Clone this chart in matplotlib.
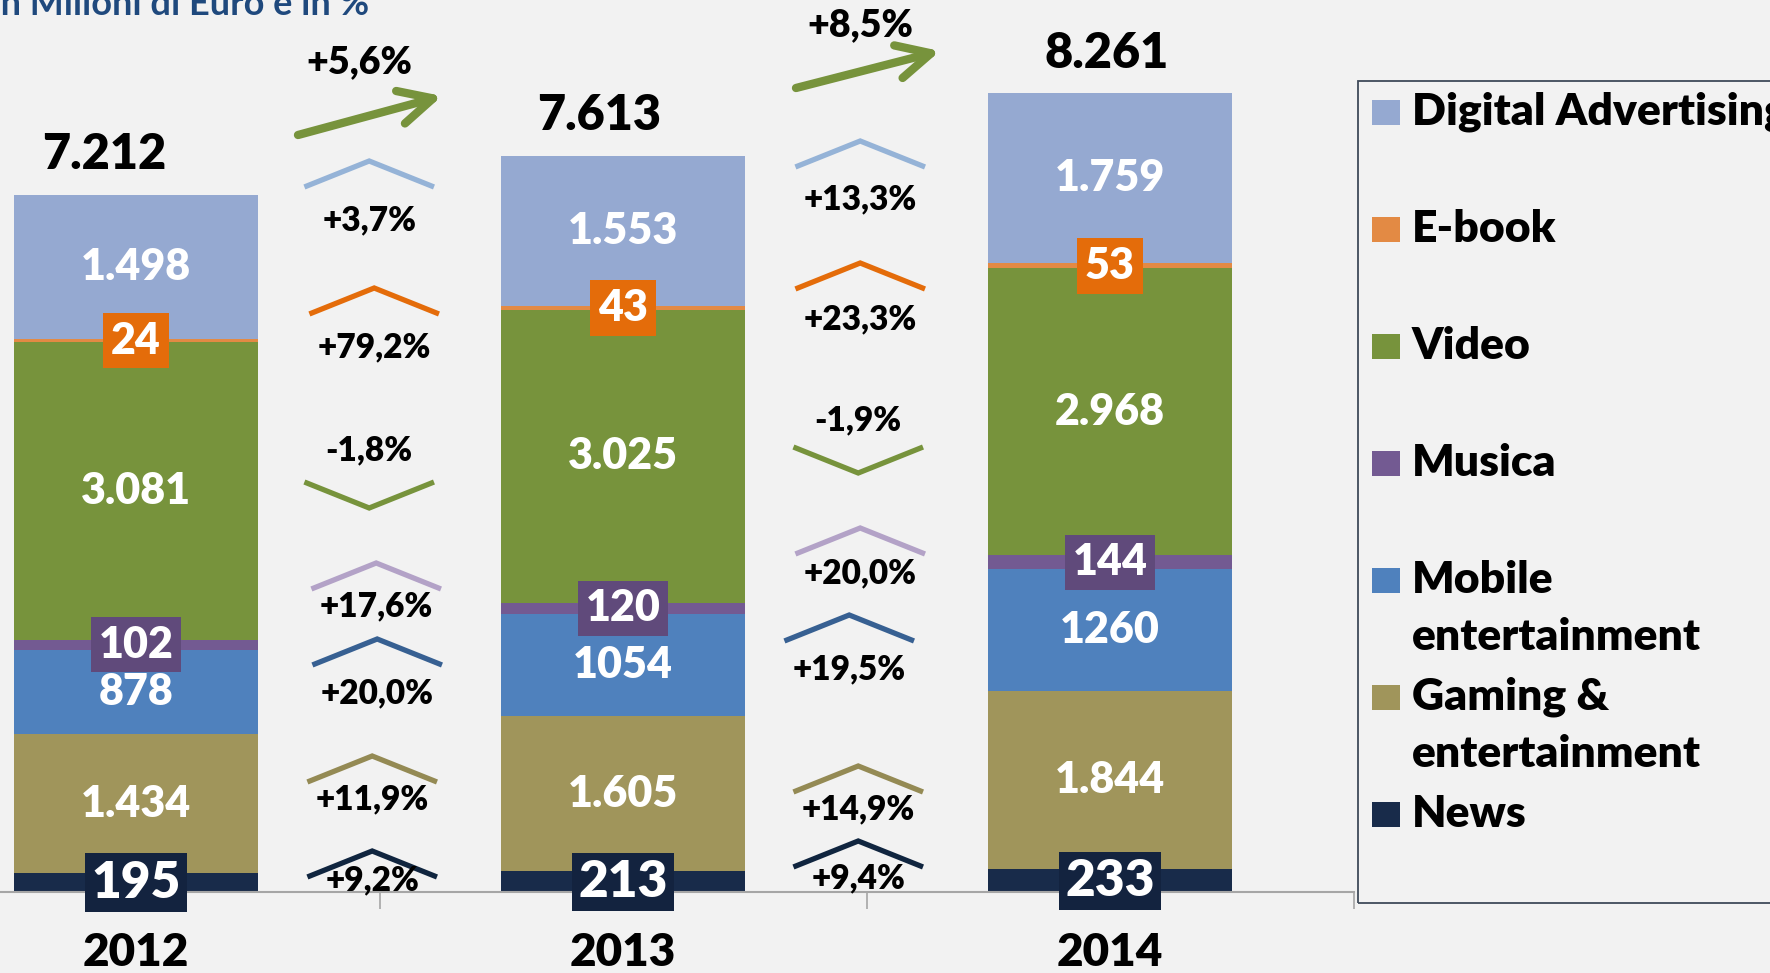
import matplotlib
matplotlib.use("Agg")
import matplotlib.pyplot as plt
from matplotlib.patches import Rectangle
from matplotlib.transforms import blended_transform_factory

# ===============================
# DATA (Milioni di Euro)
# ===============================
YEARS = ["2012", "2013", "2014"]

# stacked bottom -> top
SERIES = ["News", "Gaming &\nentertainment", "Mobile\nentertainment",
          "Musica", "Video", "E-book", "Digital Advertising"]
news = [195, 213, 233]
gaming = [1434, 1605, 1844]
mobile = [878, 1054, 1260]
musica = [102, 120, 144]
video = [3081, 3025, 2968]
ebook = [24, 43, 53]
digital = [1498, 1553, 1759]
VALUES = [news, gaming, mobile, musica, video, ebook, digital]

# ===============================
# STYLE / LAYOUT
# ===============================
BG = "#F2F2F2"
COLORS = ["#182B4A", "#A0955B", "#4F81BD", "#735A92", "#77933C", "#E38A44", "#95A9D1"]
CHEV_COLORS = ["#10253F", "#948A54", "#376092", "#B3A2C7", "#77933C", "#E46C0A", "#95B3D7"]
BOX_COLORS = {"News": "#13233F", "Musica": "#604A7B", "E-book": "#E46C0A"}
NO_SEP = {"Mobile\nentertainment"}

MAIN_FONT = ["Lato", "DejaVu Sans"]
NARROW_FONT = ["Liberation Sans Narrow", "Lato", "DejaVu Sans"]
WEIGHT = "heavy"

W, H = 1770, 973
PX_UNIT = 0.0967          # pixels per million euro
AX_BOTTOM_PX = 81
AX_H_PX = H - AX_BOTTOM_PX
CAT_PX = 487
BAR_W = 0.5

# chevron anchors (pixels from top), series order bottom -> top
CHEV_END_PX = [[876, 781, 664, 588, 483, 313, 186],
               [866, 791, 640, 553, 448, 288, 166]]
CHEV_TXT_PX = [[880, 799, 693, 606, 450, 347, 220],
               [878, 809, 669, 573, 420, 319, 199]]
CHEV_DX_PX = [[0, 0, 5, 4, -3, 2, -3],
              [0, 0, -9, 2, 0, 2, 2]]
GAP_X = [0.485, 1.483]
CHEV_HALF_W = 0.128
CHEV_H_PX = 25
ARROW_PX = [((298, 135), (442, 96)), ((796, 88), (940, 51))]
ARROW_TXT_PX = [(359, 62), (860, 25)]
TOTAL_DX_PX = [-32, -24, -3]


def px_y(py):
    return (AX_H_PX - py) / PX_UNIT


def px_x(px):
    return (px - 136) / CAT_PX


def fmt_it(v, sep=True):
    return f"{v:,}".replace(",", ".") if sep else str(v)


def fmt_pct(p):
    return f"{p:+.1f}%".replace(".", ",")


plt.rcParams["font.family"] = MAIN_FONT
fig = plt.figure(figsize=(W / 100, H / 100), dpi=100, facecolor=BG)
ax = fig.add_axes([-107.5 / W, AX_BOTTOM_PX / H, 1461 / W, AX_H_PX / H])
ax.set_facecolor(BG)
ax.set_xlim(-0.5, 2.5)
ax.set_ylim(0, AX_H_PX / PX_UNIT)

x = list(range(len(YEARS)))
bottoms = [0, 0, 0]
for name, vals, col in zip(SERIES, VALUES, COLORS):
    ax.bar(x, vals, BAR_W, bottom=bottoms, color=col, edgecolor="none", zorder=2)
    for i, v in enumerate(vals):
        yc = bottoms[i] + v / 2
        if name in BOX_COLORS:
            narrow = name == "News"
            ax.text(i, yc, fmt_it(v), ha="center", va="center", color="white",
                    fontsize=37 if narrow else 31, fontweight=WEIGHT,
                    family=NARROW_FONT if narrow else MAIN_FONT, zorder=5,
                    bbox=dict(boxstyle="square,pad=0.12" if narrow else "square,pad=0.18",
                              fc=BOX_COLORS[name], ec="none"))
        else:
            ax.text(i, yc, fmt_it(v, name not in NO_SEP), ha="center", va="center",
                    color="white", fontsize=31, fontweight=WEIGHT, zorder=4)
    bottoms = [b + v for b, v in zip(bottoms, vals)]

totals = bottoms
for i, t in enumerate(totals):
    ax.text(i + TOTAL_DX_PX[i] / CAT_PX, t + 40 / PX_UNIT, fmt_it(t), ha="center",
            va="center", fontsize=35, fontweight=WEIGHT, color="black")

# growth chevrons between years
for g in range(len(YEARS) - 1):
    xc = GAP_X[g]
    for s, vals in enumerate(VALUES):
        pct = (vals[g + 1] / vals[g] - 1) * 100
        y_end = px_y(CHEV_END_PX[g][s])
        h = CHEV_H_PX / PX_UNIT * (1 if pct >= 0 else -1)
        dx = CHEV_DX_PX[g][s] / CAT_PX
        ax.plot([xc + dx - CHEV_HALF_W, xc + dx, xc + dx + CHEV_HALF_W],
                [y_end, y_end + h, y_end], color=CHEV_COLORS[s], lw=3.8,
                solid_joinstyle="miter", zorder=3)
        ax.text(xc + dx, px_y(CHEV_TXT_PX[g][s]), fmt_pct(pct), ha="center",
                va="center", fontsize=24, fontweight=WEIGHT, color="black", zorder=4)
    tot_pct = (totals[g + 1] / totals[g] - 1) * 100
    (x0, y0), (x1, y1) = ARROW_PX[g]
    ax.annotate("", xy=(px_x(x1), px_y(y1)), xytext=(px_x(x0), px_y(y0)),
                arrowprops=dict(arrowstyle="->,head_length=1.1,head_width=0.55",
                                color="#77933C", lw=6, mutation_scale=22,
                                shrinkA=0, shrinkB=0, capstyle="round"), zorder=3)
    tx, ty = ARROW_TXT_PX[g]
    ax.text(px_x(tx), px_y(ty), fmt_pct(tot_pct), ha="center", va="center",
            fontsize=27, fontweight=WEIGHT, color="black")

# axis
for side in ["top", "right", "left"]:
    ax.spines[side].set_visible(False)
ax.spines["bottom"].set_color("#A6A6A6")
ax.spines["bottom"].set_linewidth(1.5)
ax.set_yticks([])
ax.set_xticks([])
ax.set_xticks([-0.5, 0.5, 1.5, 2.5], minor=True)
ax.tick_params(axis="x", which="minor", length=12, width=1.2, color="#A6A6A6", labelbottom=False)
trans = blended_transform_factory(ax.transData, ax.transAxes)
for i, yr in enumerate(YEARS):
    ax.text(i, -61 / AX_H_PX, yr, transform=trans, ha="center", va="center",
            fontsize=33, fontweight=WEIGHT, family=NARROW_FONT, clip_on=False)

# title (cut at the top edge in the original)
fig.text(-10 / W, 1 - 15 / H, "In Milioni di Euro e in %", ha="left", va="baseline",
         fontsize=26, fontweight="bold", color="#1F497D")

# legend drawn by hand (top -> bottom)
fig.patches.append(Rectangle((1358 / W, 1 - 903 / H), 500 / W, 822 / H, transform=fig.transFigure,
                             fill=False, ec="#3F4A5A", lw=1.3))
legend_items = list(zip(SERIES, COLORS))[::-1]
for k, (name, col) in enumerate(legend_items):
    y0 = 112 + 117 * k
    fig.patches.append(Rectangle((1372 / W, 1 - (y0 + 12.5) / H), 28 / W, 25 / H,
                                 transform=fig.transFigure, fc=col, ec="none"))
    for j, line in enumerate(name.split("\n")):
        fig.text(1412 / W, 1 - (y0 + 57 * j) / H, line, ha="left", va="center",
                 fontsize=32, fontweight=WEIGHT, color="black")

plt.savefig("out.png", dpi=100, facecolor=BG)
